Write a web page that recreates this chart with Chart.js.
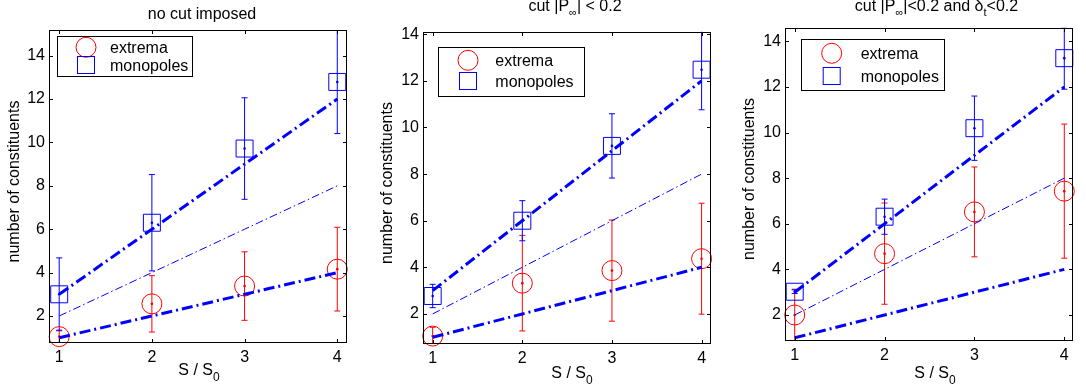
<!DOCTYPE html>
<html>
<head>
<meta charset="utf-8">
<script src="https://cdn.jsdelivr.net/npm/chart.js@4.4.1/dist/chart.umd.min.js"></script>
<style>
  html, body { margin: 0; padding: 0; background: #fff; }
  #wrap { position: relative; width: 1086px; height: 389px; overflow: hidden; background: #fff; }
  #wrap canvas { position: absolute; top: 0; }
</style>
</head>
<body>
<div id="wrap">
  <canvas id="p1" width="362" height="389" style="left:0px"></canvas>
  <canvas id="p2" width="362" height="389" style="left:362px"></canvas>
  <canvas id="p3" width="362" height="389" style="left:724px"></canvas>
</div>
<script>
// ---- data -------------------------------------------------------------
const sValues = [1, 2, 3, 4];
const xTickValues = [1, 2, 3, 4];
const yTickValues = [2, 4, 6, 8, 10, 12, 14];

// reference lines N = k * S/S0 for k = 1, 2, 3
const refSlope1 = [1, 2, 3, 4];
const refSlope2 = [2, 4, 6, 8];
const refSlope3 = [3, 6, 9, 12];

// no cut imposed
const extremaNoCut      = [1.05, 2.56, 3.38, 4.16];
const extremaNoCutErr   = [0.30, 1.30, 1.58, 1.93];
const monopolesNoCut    = [3.00, 6.30, 9.72, 12.79];
const monopolesNoCutErr = [1.68, 2.22, 2.34, 2.38];

// cut |P_inf| < 0.2
const extremaCutP      = [1.05, 3.32, 3.86, 4.37];
const extremaCutPErr   = [0.38, 2.05, 2.17, 2.38];
const monopolesCutP    = [2.77, 6.00, 9.21, 12.48];
const monopolesCutPErr = [0.50, 0.86, 1.38, 1.72];

// cut |P_inf| < 0.2 and delta_t < 0.2
const extremaCutPD      = [2.00, 4.69, 6.52, 7.43];
const extremaCutPDErr   = [1.13, 2.22, 1.97, 2.94];
const monopolesCutPD    = [3.02, 6.31, 10.19, 13.26];
const monopolesCutPDErr = [0.08, 0.77, 1.41, 1.36];

const seriesLabels = ['extrema', 'monopoles'];
const yAxisLabel = 'number of constituents';

// ---- styling helpers --------------------------------------------------
const FONT = '"Liberation Sans", Arial, Helvetica, sans-serif';
const RED = '#ff0000';
const BLUE = '#0000ff';

function pts(vals) { return sValues.map((s, i) => ({ x: s, y: vals[i] })); }

function drawRich(ctx, parts, x, y, size, subSize, subShift, align) {
  const widths = parts.map(p => {
    ctx.font = (p.sub ? subSize : size) + 'px ' + FONT;
    return ctx.measureText(p.t).width;
  });
  const total = widths.reduce((a, b) => a + b, 0);
  let cx = align === 'center' ? x - total / 2 : x;
  ctx.textAlign = 'left';
  ctx.textBaseline = 'alphabetic';
  parts.forEach((p, i) => {
    ctx.font = (p.sub ? subSize : size) + 'px ' + FONT;
    ctx.fillText(p.t, cx, y + (p.sub ? subShift : 0));
    cx += widths[i];
  });
}

// error bars drawn through the chart's own scales
const errorBarPlugin = {
  id: 'errorBars',
  beforeDatasetsDraw(chart) {
    const ctx = chart.ctx;
    const ys = chart.scales.y;
    const a = chart.chartArea;
    ctx.save();
    ctx.beginPath();
    ctx.rect(a.left, a.top, a.right - a.left, a.bottom - a.top);
    ctx.clip();
    chart.data.datasets.forEach((ds, i) => {
      if (!ds.errorBars) return;
      const meta = chart.getDatasetMeta(i);
      ctx.strokeStyle = ds.borderColor;
      ctx.lineWidth = 1;
      meta.data.forEach((el, j) => {
        const v = ds.data[j].y, e = ds.errorBars[j];
        const x = el.x;
        const yt = ys.getPixelForValue(v + e);
        const yb = ys.getPixelForValue(v - e);
        ctx.beginPath();
        ctx.moveTo(x, yt); ctx.lineTo(x, yb);
        ctx.moveTo(x - 3, yt); ctx.lineTo(x + 3, yt);
        ctx.moveTo(x - 3, yb); ctx.lineTo(x + 3, yb);
        ctx.stroke();
      });
    });
    ctx.restore();
  }
};

// axes box, inward ticks, legend, title and axis labels
const decorPlugin = {
  id: 'panelDecor',
  afterDraw(chart, args, o) {
    const ctx = chart.ctx;
    const a = chart.chartArea;
    const xs = chart.scales.x, ys = chart.scales.y;
    ctx.save();
    ctx.strokeStyle = '#000';
    ctx.lineWidth = 1;
    const L = Math.round(a.left) + 0.5, R = Math.round(a.right) - 0.5;
    const T = Math.round(a.top) + 0.5, B = Math.round(a.bottom) - 0.5;
    ctx.strokeRect(L, T, R - L, B - T);
    const tl = 3.5;
    ctx.beginPath();
    xTickValues.forEach(v => {
      const px = Math.round(xs.getPixelForValue(v)) + 0.5;
      ctx.moveTo(px, B); ctx.lineTo(px, B - tl);
      ctx.moveTo(px, T); ctx.lineTo(px, T + tl);
    });
    ys.ticks.forEach(t => {
      const py = Math.round(ys.getPixelForValue(t.value)) + 0.5;
      ctx.moveTo(L, py); ctx.lineTo(L + tl, py);
      ctx.moveTo(R, py); ctx.lineTo(R - tl, py);
    });
    ctx.stroke();

    // legend
    const lg = o.legend;
    ctx.fillStyle = '#fff';
    ctx.fillRect(lg.x, lg.y, lg.w, lg.h);
    ctx.strokeStyle = '#000';
    ctx.strokeRect(Math.round(lg.x) + 0.5, Math.round(lg.y) + 0.5, Math.round(lg.w), Math.round(lg.h));
    ctx.lineWidth = 1;
    ctx.strokeStyle = RED;
    ctx.beginPath();
    ctx.arc(lg.mx, lg.y1, 10, 0, Math.PI * 2);
    ctx.stroke();
    ctx.strokeStyle = BLUE;
    ctx.strokeRect(lg.mx - 8.5, lg.y2 - 8.5, 17, 17);
    ctx.fillStyle = '#000';
    ctx.font = '16px ' + FONT;
    ctx.textAlign = 'left';
    ctx.textBaseline = 'middle';
    ctx.fillText(seriesLabels[0], lg.tx, lg.y1 + 1.5);
    ctx.fillText(seriesLabels[1], lg.tx, lg.y2 + 1.5);

    // title
    ctx.fillStyle = '#000';
    drawRich(ctx, o.title, o.titleX, o.titleY, 16, 11, 5, 'center');
    // x label  S / S0
    drawRich(ctx, [{ t: 'S / S' }, { t: '0', sub: true }], o.xLabelX, o.xLabelY, 16, 12, 6, 'center');
    // y label
    ctx.save();
    ctx.translate(o.yLabelX, o.yLabelY);
    ctx.rotate(-Math.PI / 2);
    ctx.font = '16px ' + FONT;
    ctx.textAlign = 'center';
    ctx.textBaseline = 'alphabetic';
    ctx.fillText(yAxisLabel, 0, 0);
    ctx.restore();
    ctx.restore();
  }
};

function makePanel(id, extrema, extremaErr, monopoles, monopolesErr, view) {
  const datasets = [
    { type: 'line', data: pts(refSlope1), borderColor: BLUE, borderWidth: 3, borderDash: [11, 4, 2, 4],
      pointRadius: 0, fill: false, order: 1 },
    { type: 'line', data: pts(refSlope3), borderColor: BLUE, borderWidth: 3, borderDash: [11, 4, 2, 4],
      pointRadius: 0, fill: false, order: 1 },
    { type: 'line', data: pts(refSlope2), borderColor: BLUE, borderWidth: 1, borderDash: [8, 3, 1.5, 3],
      pointRadius: 0, fill: false, order: 1 },
    { type: 'scatter', label: seriesLabels[0], data: pts(extrema), errorBars: extremaErr,
      borderColor: RED, backgroundColor: 'rgba(0,0,0,0)', pointStyle: 'circle', pointRadius: 10,
      pointBorderWidth: 1, clip: false, order: 3 },
    { type: 'scatter', label: seriesLabels[1], data: pts(monopoles), errorBars: monopolesErr,
      borderColor: BLUE, backgroundColor: 'rgba(0,0,0,0)', pointStyle: 'rect', pointRadius: 12,
      pointBorderWidth: 1, clip: false, order: 3 },
    { type: 'scatter', data: pts(extrema), borderColor: RED, backgroundColor: RED,
      pointRadius: 1.3, pointBorderWidth: 0, order: 2 },
    { type: 'scatter', data: pts(monopoles), borderColor: BLUE, backgroundColor: BLUE,
      pointRadius: 1.3, pointBorderWidth: 0, order: 2 }
  ];
  const axisFont = { family: FONT, size: 16 };
  return new Chart(document.getElementById(id), {
    data: { datasets },
    options: {
      responsive: false,
      animation: false,
      devicePixelRatio: 1,
      events: [],
      layout: { padding: view.padding },
      plugins: {
        legend: { display: false },
        tooltip: { enabled: false },
        title: { display: false },
        panelDecor: view.decor
      },
      scales: {
        x: {
          type: 'linear', min: view.xMin, max: view.xMax,
          afterBuildTicks: s => { s.ticks = xTickValues.map(v => ({ value: v })); },
          afterFit: s => { s.height = 30; },
          grid: { display: false, drawTicks: false },
          border: { display: false },
          ticks: { font: axisFont, color: '#000', padding: 5, maxRotation: 0, autoSkip: false,
                   callback: v => String(v) }
        },
        y: {
          type: 'linear', min: view.yMin, max: view.yMax,
          afterBuildTicks: s => { s.ticks = yTickValues.map(v => ({ value: v })); },
          afterFit: s => { s.width = 30; },
          grid: { display: false, drawTicks: false },
          border: { display: false },
          ticks: { font: axisFont, color: '#000', padding: 4, autoSkip: false,
                   callback: v => String(v) }
        }
      }
    },
    plugins: [errorBarPlugin, decorPlugin]
  });
}

makePanel('p1', extremaNoCut, extremaNoCutErr, monopolesNoCut, monopolesNoCutErr, {
  xMin: 0.89, xMax: 4.105, yMin: 0.755, yMax: 15.185,
  padding: { left: 19, right: 15, top: 30, bottom: 16 },
  decor: {
    title: [{ t: 'no cut imposed' }], titleX: 202, titleY: 18.5,
    xLabelX: 199, xLabelY: 375, yLabelX: 18.5, yLabelY: 181.5,
    legend: { x: 57, y: 36, w: 135, h: 40, mx: 86, y1: 47.3, y2: 65, tx: 110 }
  }
});

makePanel('p2', extremaCutP, extremaCutPErr, monopolesCutP, monopolesCutPErr, {
  xMin: 0.892, xMax: 4.105, yMin: 0.71, yMax: 14.11,
  padding: { left: 31, right: 3, top: 31.7, bottom: 15 },
  decor: {
    title: [{ t: 'cut |P' }, { t: '\u221E', sub: true }, { t: '| < 0.2' }], titleX: 213, titleY: 10.5,
    xLabelX: 210, xLabelY: 378, yLabelX: 29.5, yLabelY: 183,
    legend: { x: 76, y: 46.7, w: 146, h: 49.3, mx: 106, y1: 60.3, y2: 81, tx: 133.3 }
  }
});

makePanel('p3', extremaCutPD, extremaCutPDErr, monopolesCutPD, monopolesCutPDErr, {
  xMin: 0.892, xMax: 4.097, yMin: 0.873, yMax: 14.596,
  padding: { left: 31, right: 3, top: 27.7, bottom: 18.3 },
  decor: {
    title: [{ t: 'cut |P' }, { t: '\u221E', sub: true }, { t: '|<0.2 and \u03B4' }, { t: 't', sub: true }, { t: '<0.2' }],
    titleX: 212.5, titleY: 10.7,
    xLabelX: 211, xLabelY: 377.5, yLabelX: 29.5, yLabelY: 179,
    legend: { x: 76.7, y: 39.3, w: 143.3, h: 50.7, mx: 107.7, y1: 53.3, y2: 76, tx: 136.7 }
  }
});
</script>
</body>
</html>
